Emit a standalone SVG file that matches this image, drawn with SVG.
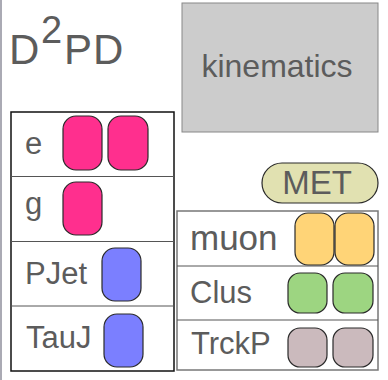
<svg xmlns="http://www.w3.org/2000/svg" width="388" height="380" viewBox="0 0 388 380">
  <style>
    text { font-family: "Liberation Sans", Arial, sans-serif; fill: #5c5c5c; }
    .lbl { font-size: 31px; }
    .pill { stroke: #2a2a2a; stroke-width: 1.2; }
    .ele { fill: #ff2f8e; }
    .jet { fill: #7b7fff; }
    .muo { fill: #ffd477; }
    .clu { fill: #9dd581; }
    .trk { fill: #cbbabd; }
    .div { stroke: #555; stroke-width: 1; }
  </style>

  <!-- page edge -->
  <rect x="0" y="0" width="2" height="380" fill="#aaaab4"/>

  <!-- title -->
  <g id="title">
    <text x="9" y="64" font-size="42">D</text>
    <text x="41" y="43" font-size="38">2</text>
    <text x="64" y="64" font-size="42">P</text>
    <text x="93" y="64" font-size="42">D</text>
  </g>

  <!-- kinematics block -->
  <g id="kinematics">
    <rect x="182" y="3" width="196" height="129" fill="#cccccc" stroke="#888" stroke-width="1"/>
    <text x="277" y="77" font-size="32" text-anchor="middle">kinematics</text>
  </g>

  <!-- missing transverse energy -->
  <g id="met">
    <rect x="262" y="163" width="116" height="40" rx="20" fill="#e1e1b1" stroke="#2a2a2a" stroke-width="1.2"/>
    <text x="317" y="194" font-size="33" text-anchor="middle">MET</text>
  </g>

  <!-- left table: electrons, photons, jets, taus -->
  <g id="left-table">
    <rect x="11" y="112" width="163" height="259" fill="#fff" stroke="#111" stroke-width="1.5"/>
    <line class="div" x1="11" y1="176.5" x2="174" y2="176.5"/>
    <line class="div" x1="11" y1="241.5" x2="174" y2="241.5"/>
    <line class="div" x1="11" y1="306" x2="174" y2="306"/>
  </g>

  <g id="row-e">
    <text class="lbl" x="25" y="154">e</text>
    <rect class="pill ele" x="63" y="116" width="39" height="54" rx="13"/>
    <rect class="pill ele" x="108" y="116" width="40" height="54" rx="13"/>
  </g>

  <g id="row-g">
    <text class="lbl" x="25" y="214">g</text>
    <rect class="pill ele" x="63" y="182" width="39" height="53" rx="13"/>
  </g>

  <g id="row-pjet">
    <text class="lbl" x="25" y="284">PJet</text>
    <rect class="pill jet" x="102" y="248" width="39" height="53" rx="13"/>
  </g>

  <g id="row-tauj">
    <text class="lbl" x="26" y="348">TauJ</text>
    <rect class="pill jet" x="104" y="314" width="39" height="53" rx="13"/>
  </g>

  <!-- right table: muons, clusters, track particles -->
  <g id="right-table">
    <rect x="177" y="211" width="201" height="159" fill="#fff" stroke="#777" stroke-width="1.5"/>
    <line class="div" x1="177" y1="266" x2="378" y2="266" stroke="#777"/>
    <line class="div" x1="177" y1="320" x2="378" y2="320" stroke="#777"/>
  </g>

  <g id="row-muon">
    <text x="190" y="250" font-size="35">muon</text>
    <rect class="pill muo" x="295" y="213" width="39" height="52" rx="13"/>
    <rect class="pill muo" x="335" y="213" width="39" height="52" rx="13"/>
  </g>

  <g id="row-clus">
    <text class="lbl" x="190" y="303">Clus</text>
    <rect class="pill clu" x="288" y="273" width="39" height="40" rx="12"/>
    <rect class="pill clu" x="333" y="273" width="40" height="40" rx="12"/>
  </g>

  <g id="row-trckp">
    <text class="lbl" x="191" y="354">TrckP</text>
    <rect class="pill trk" x="288" y="328" width="39" height="39" rx="12"/>
    <rect class="pill trk" x="333" y="328" width="40" height="39" rx="12"/>
  </g>
</svg>
